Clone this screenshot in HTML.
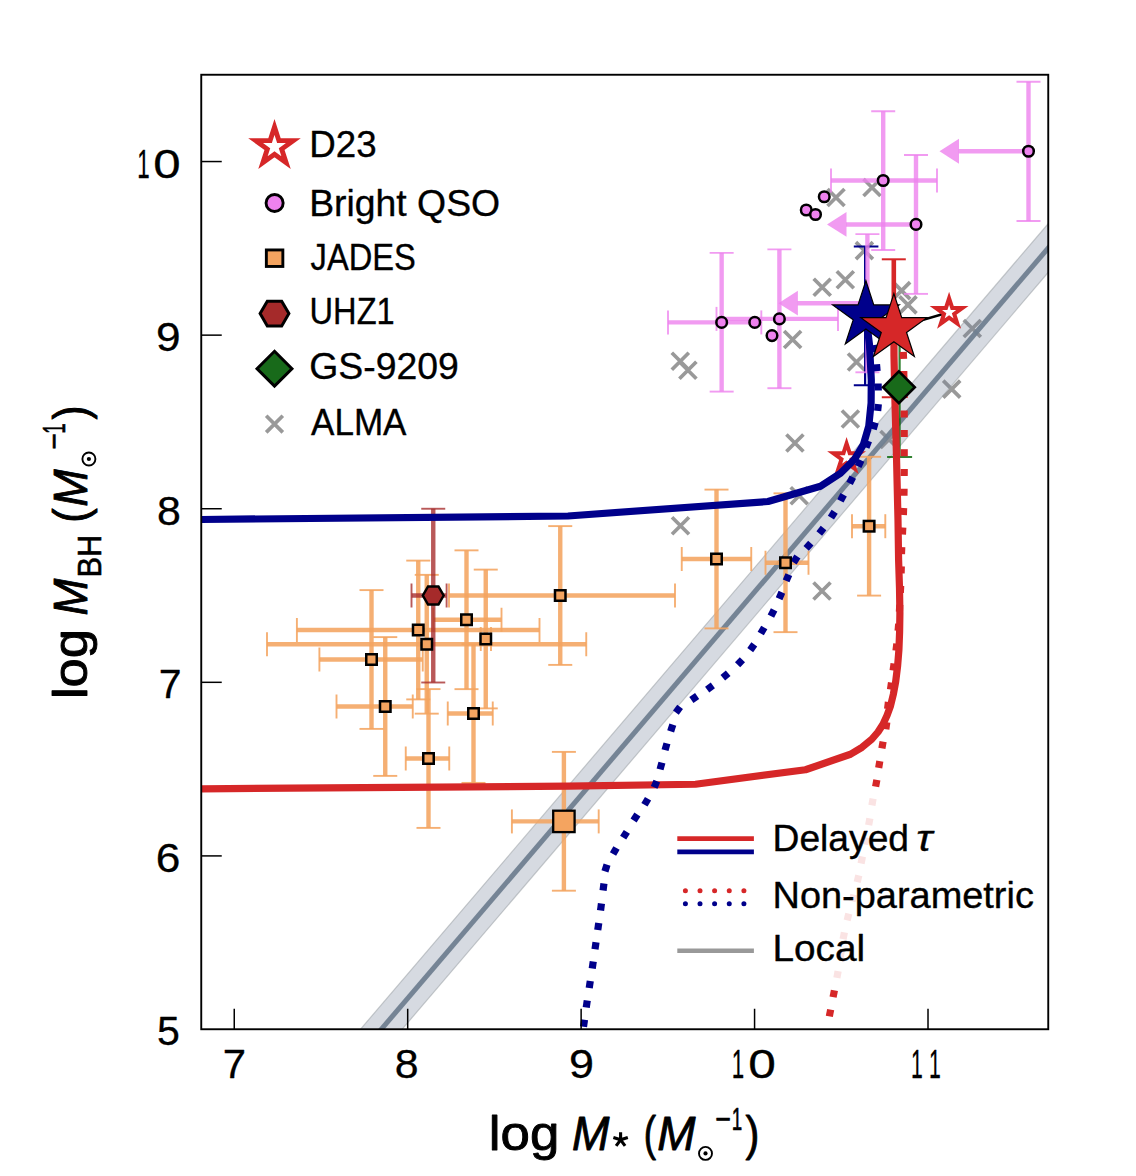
<!DOCTYPE html>
<html><head><meta charset="utf-8"><title>plot</title>
<style>
html,body{margin:0;padding:0;background:#fff;}
body{width:1136px;height:1176px;overflow:hidden;font-family:"Liberation Sans",sans-serif;}
svg{display:block;}
text{font-family:"Liberation Sans",sans-serif;fill:#000;}
.it{font-style:italic;}
</style></head><body>
<svg width="1136" height="1176" viewBox="0 0 1136 1176">
<rect x="0" y="0" width="1136" height="1176" fill="#ffffff"/>
<defs><clipPath id="cp"><rect x="201.25" y="74.75" width="847.0" height="954.5"/></clipPath></defs>
<g clip-path="url(#cp)">
<path d="M827.50 189.00L844.50 206.00M827.50 206.00L844.50 189.00" stroke="#999999" stroke-width="3.7" fill="none"/>
<path d="M863.50 179.00L880.50 196.00M863.50 196.00L880.50 179.00" stroke="#999999" stroke-width="3.7" fill="none"/>
<path d="M855.90 242.10L872.90 259.10M855.90 259.10L872.90 242.10" stroke="#999999" stroke-width="3.7" fill="none"/>
<path d="M836.80 271.20L853.80 288.20M836.80 288.20L853.80 271.20" stroke="#999999" stroke-width="3.7" fill="none"/>
<path d="M813.70 278.70L830.70 295.70M813.70 295.70L830.70 278.70" stroke="#999999" stroke-width="3.7" fill="none"/>
<path d="M893.10 282.10L910.10 299.10M893.10 299.10L910.10 282.10" stroke="#999999" stroke-width="3.7" fill="none"/>
<path d="M899.50 296.40L916.50 313.40M899.50 313.40L916.50 296.40" stroke="#999999" stroke-width="3.7" fill="none"/>
<path d="M784.10 331.00L801.10 348.00M784.10 348.00L801.10 331.00" stroke="#999999" stroke-width="3.7" fill="none"/>
<path d="M671.80 352.70L688.80 369.70M671.80 369.70L688.80 352.70" stroke="#999999" stroke-width="3.7" fill="none"/>
<path d="M679.40 361.80L696.40 378.80M679.40 378.80L696.40 361.80" stroke="#999999" stroke-width="3.7" fill="none"/>
<path d="M848.00 353.50L865.00 370.50M848.00 370.50L865.00 353.50" stroke="#999999" stroke-width="3.7" fill="none"/>
<path d="M963.80 320.00L980.80 337.00M963.80 337.00L980.80 320.00" stroke="#999999" stroke-width="3.7" fill="none"/>
<path d="M943.20 380.60L960.20 397.60M943.20 397.60L960.20 380.60" stroke="#999999" stroke-width="3.7" fill="none"/>
<path d="M841.90 410.50L858.90 427.50M841.90 427.50L858.90 410.50" stroke="#999999" stroke-width="3.7" fill="none"/>
<path d="M786.40 434.50L803.40 451.50M786.40 451.50L803.40 434.50" stroke="#999999" stroke-width="3.7" fill="none"/>
<path d="M880.50 431.00L897.50 448.00M880.50 448.00L897.50 431.00" stroke="#999999" stroke-width="3.7" fill="none"/>
<path d="M790.70 487.30L807.70 504.30M790.70 504.30L807.70 487.30" stroke="#999999" stroke-width="3.7" fill="none"/>
<path d="M672.00 517.25L689.00 534.25M672.00 534.25L689.00 517.25" stroke="#999999" stroke-width="3.7" fill="none"/>
<path d="M813.50 582.50L830.50 599.50M813.50 599.50L830.50 582.50" stroke="#999999" stroke-width="3.7" fill="none"/>
<path d="M330 1064.94L1080 186.39L1080 235.19L330 1113.74Z" fill="rgba(112,128,150,0.29)" stroke="rgba(150,155,160,0.5)" stroke-width="1.2"/>
<path d="M330 1089.34L1080 210.79" stroke="rgba(112,128,144,0.95)" stroke-width="5" fill="none"/>
<path d="M865.1 246.4V385.3" stroke="#00008b" stroke-width="2.2" fill="none"/><path d="M853.8 246.4H878.4M853.8 385.3H878.4" stroke="#00008b" stroke-width="2.0" fill="none"/>
<path d="M1028.50 81.75V221.00" stroke="rgba(238,130,238,0.8)" stroke-width="4.4" fill="none"/><path d="M1016.50 81.75H1040.50" stroke="rgba(238,130,238,0.8)" stroke-width="1.9" fill="none"/><path d="M1016.50 221.00H1040.50" stroke="rgba(238,130,238,0.8)" stroke-width="1.9" fill="none"/>
<path d="M1028.50 151.25H958.50" stroke="rgba(238,130,238,0.8)" stroke-width="4.5" fill="none"/>
<path d="M939.50 151.25L959.00 138.85V163.65Z" fill="rgba(238,130,238,0.8)"/>
<path d="M883.20 111.25V250.00" stroke="rgba(238,130,238,0.8)" stroke-width="4.4" fill="none"/><path d="M871.20 111.25H895.20" stroke="rgba(238,130,238,0.8)" stroke-width="1.9" fill="none"/><path d="M871.20 250.00H895.20" stroke="rgba(238,130,238,0.8)" stroke-width="1.9" fill="none"/><path d="M831.00 180.50H937.00" stroke="rgba(238,130,238,0.8)" stroke-width="4.4" fill="none"/><path d="M831.00 168.50V192.50" stroke="rgba(238,130,238,0.8)" stroke-width="1.9" fill="none"/><path d="M937.00 168.50V192.50" stroke="rgba(238,130,238,0.8)" stroke-width="1.9" fill="none"/>
<path d="M916.00 155.00V293.90" stroke="rgba(238,130,238,0.8)" stroke-width="4.4" fill="none"/><path d="M904.00 155.00H928.00" stroke="rgba(238,130,238,0.8)" stroke-width="1.9" fill="none"/><path d="M904.00 293.90H928.00" stroke="rgba(238,130,238,0.8)" stroke-width="1.9" fill="none"/>
<path d="M916.00 224.40H846.00" stroke="rgba(238,130,238,0.8)" stroke-width="4.5" fill="none"/>
<path d="M827.00 224.40L846.50 212.00V236.80Z" fill="rgba(238,130,238,0.8)"/>
<path d="M867.40 234.10V372.30" stroke="rgba(238,130,238,0.8)" stroke-width="4.4" fill="none"/><path d="M855.40 234.10H879.40" stroke="rgba(238,130,238,0.8)" stroke-width="1.9" fill="none"/><path d="M855.40 372.30H879.40" stroke="rgba(238,130,238,0.8)" stroke-width="1.9" fill="none"/>
<path d="M867.40 303.20H797.40" stroke="rgba(238,130,238,0.8)" stroke-width="4.5" fill="none"/>
<path d="M778.40 303.20L797.90 290.80V315.60Z" fill="rgba(238,130,238,0.8)"/>
<path d="M721.65 252.90V391.60" stroke="rgba(238,130,238,0.8)" stroke-width="4.4" fill="none"/><path d="M709.65 252.90H733.65" stroke="rgba(238,130,238,0.8)" stroke-width="1.9" fill="none"/><path d="M709.65 391.60H733.65" stroke="rgba(238,130,238,0.8)" stroke-width="1.9" fill="none"/><path d="M668.00 322.40H761.30" stroke="rgba(238,130,238,0.8)" stroke-width="4.4" fill="none"/><path d="M668.00 310.40V334.40" stroke="rgba(238,130,238,0.8)" stroke-width="1.9" fill="none"/><path d="M761.30 310.40V334.40" stroke="rgba(238,130,238,0.8)" stroke-width="1.9" fill="none"/>
<path d="M779.40 249.40V388.20" stroke="rgba(238,130,238,0.8)" stroke-width="4.4" fill="none"/><path d="M767.40 249.40H791.40" stroke="rgba(238,130,238,0.8)" stroke-width="1.9" fill="none"/><path d="M767.40 388.20H791.40" stroke="rgba(238,130,238,0.8)" stroke-width="1.9" fill="none"/><path d="M716.50 318.90H838.00" stroke="rgba(238,130,238,0.8)" stroke-width="4.4" fill="none"/><path d="M716.50 306.90V330.90" stroke="rgba(238,130,238,0.8)" stroke-width="1.9" fill="none"/><path d="M838.00 306.90V330.90" stroke="rgba(238,130,238,0.8)" stroke-width="1.9" fill="none"/>
<path d="M371.50 590.10V728.90" stroke="rgba(244,164,96,0.88)" stroke-width="4.4" fill="none"/><path d="M359.50 590.10H383.50" stroke="rgba(244,164,96,0.88)" stroke-width="1.9" fill="none"/><path d="M359.50 728.90H383.50" stroke="rgba(244,164,96,0.88)" stroke-width="1.9" fill="none"/><path d="M319.40 659.50H422.75" stroke="rgba(244,164,96,0.88)" stroke-width="4.4" fill="none"/><path d="M319.40 647.50V671.50" stroke="rgba(244,164,96,0.88)" stroke-width="1.9" fill="none"/><path d="M422.75 647.50V671.50" stroke="rgba(244,164,96,0.88)" stroke-width="1.9" fill="none"/>
<path d="M385.25 637.10V775.90" stroke="rgba(244,164,96,0.88)" stroke-width="4.4" fill="none"/><path d="M373.25 637.10H397.25" stroke="rgba(244,164,96,0.88)" stroke-width="1.9" fill="none"/><path d="M373.25 775.90H397.25" stroke="rgba(244,164,96,0.88)" stroke-width="1.9" fill="none"/><path d="M336.50 706.50H412.75" stroke="rgba(244,164,96,0.88)" stroke-width="4.4" fill="none"/><path d="M336.50 694.50V718.50" stroke="rgba(244,164,96,0.88)" stroke-width="1.9" fill="none"/><path d="M412.75 694.50V718.50" stroke="rgba(244,164,96,0.88)" stroke-width="1.9" fill="none"/>
<path d="M418.25 560.60V699.40" stroke="rgba(244,164,96,0.88)" stroke-width="4.4" fill="none"/><path d="M406.25 560.60H430.25" stroke="rgba(244,164,96,0.88)" stroke-width="1.9" fill="none"/><path d="M406.25 699.40H430.25" stroke="rgba(244,164,96,0.88)" stroke-width="1.9" fill="none"/><path d="M296.90 630.00H539.50" stroke="rgba(244,164,96,0.88)" stroke-width="4.4" fill="none"/><path d="M296.90 618.00V642.00" stroke="rgba(244,164,96,0.88)" stroke-width="1.9" fill="none"/><path d="M539.50 618.00V642.00" stroke="rgba(244,164,96,0.88)" stroke-width="1.9" fill="none"/>
<path d="M426.75 574.85V713.65" stroke="rgba(244,164,96,0.88)" stroke-width="4.4" fill="none"/><path d="M414.75 574.85H438.75" stroke="rgba(244,164,96,0.88)" stroke-width="1.9" fill="none"/><path d="M414.75 713.65H438.75" stroke="rgba(244,164,96,0.88)" stroke-width="1.9" fill="none"/><path d="M267.00 644.25H586.25" stroke="rgba(244,164,96,0.88)" stroke-width="4.4" fill="none"/><path d="M267.00 632.25V656.25" stroke="rgba(244,164,96,0.88)" stroke-width="1.9" fill="none"/><path d="M586.25 632.25V656.25" stroke="rgba(244,164,96,0.88)" stroke-width="1.9" fill="none"/>
<path d="M466.50 550.35V689.15" stroke="rgba(244,164,96,0.88)" stroke-width="4.4" fill="none"/><path d="M454.50 550.35H478.50" stroke="rgba(244,164,96,0.88)" stroke-width="1.9" fill="none"/><path d="M454.50 689.15H478.50" stroke="rgba(244,164,96,0.88)" stroke-width="1.9" fill="none"/><path d="M433.25 619.75H501.50" stroke="rgba(244,164,96,0.88)" stroke-width="4.4" fill="none"/><path d="M433.25 607.75V631.75" stroke="rgba(244,164,96,0.88)" stroke-width="1.9" fill="none"/><path d="M501.50 607.75V631.75" stroke="rgba(244,164,96,0.88)" stroke-width="1.9" fill="none"/>
<path d="M485.75 569.60V708.40" stroke="rgba(244,164,96,0.88)" stroke-width="4.4" fill="none"/><path d="M473.75 569.60H497.75" stroke="rgba(244,164,96,0.88)" stroke-width="1.9" fill="none"/><path d="M473.75 708.40H497.75" stroke="rgba(244,164,96,0.88)" stroke-width="1.9" fill="none"/><path d="M480.75 639.00H491.00" stroke="rgba(244,164,96,0.88)" stroke-width="4.4" fill="none"/><path d="M480.75 627.00V651.00" stroke="rgba(244,164,96,0.88)" stroke-width="1.9" fill="none"/><path d="M491.00 627.00V651.00" stroke="rgba(244,164,96,0.88)" stroke-width="1.9" fill="none"/>
<path d="M473.50 644.10V782.90" stroke="rgba(244,164,96,0.88)" stroke-width="4.4" fill="none"/><path d="M461.50 644.10H485.50" stroke="rgba(244,164,96,0.88)" stroke-width="1.9" fill="none"/><path d="M461.50 782.90H485.50" stroke="rgba(244,164,96,0.88)" stroke-width="1.9" fill="none"/><path d="M447.75 713.50H492.75" stroke="rgba(244,164,96,0.88)" stroke-width="4.4" fill="none"/><path d="M447.75 701.50V725.50" stroke="rgba(244,164,96,0.88)" stroke-width="1.9" fill="none"/><path d="M492.75 701.50V725.50" stroke="rgba(244,164,96,0.88)" stroke-width="1.9" fill="none"/>
<path d="M428.50 689.10V827.90" stroke="rgba(244,164,96,0.88)" stroke-width="4.4" fill="none"/><path d="M416.50 689.10H440.50" stroke="rgba(244,164,96,0.88)" stroke-width="1.9" fill="none"/><path d="M416.50 827.90H440.50" stroke="rgba(244,164,96,0.88)" stroke-width="1.9" fill="none"/><path d="M405.75 758.50H449.25" stroke="rgba(244,164,96,0.88)" stroke-width="4.4" fill="none"/><path d="M405.75 746.50V770.50" stroke="rgba(244,164,96,0.88)" stroke-width="1.9" fill="none"/><path d="M449.25 746.50V770.50" stroke="rgba(244,164,96,0.88)" stroke-width="1.9" fill="none"/>
<path d="M560.25 526.10V664.90" stroke="rgba(244,164,96,0.88)" stroke-width="4.4" fill="none"/><path d="M548.25 526.10H572.25" stroke="rgba(244,164,96,0.88)" stroke-width="1.9" fill="none"/><path d="M548.25 664.90H572.25" stroke="rgba(244,164,96,0.88)" stroke-width="1.9" fill="none"/><path d="M449.00 595.50H675.00" stroke="rgba(244,164,96,0.88)" stroke-width="4.4" fill="none"/><path d="M449.00 583.50V607.50" stroke="rgba(244,164,96,0.88)" stroke-width="1.9" fill="none"/><path d="M675.00 583.50V607.50" stroke="rgba(244,164,96,0.88)" stroke-width="1.9" fill="none"/>
<path d="M716.50 489.60V628.40" stroke="rgba(244,164,96,0.88)" stroke-width="4.4" fill="none"/><path d="M704.50 489.60H728.50" stroke="rgba(244,164,96,0.88)" stroke-width="1.9" fill="none"/><path d="M704.50 628.40H728.50" stroke="rgba(244,164,96,0.88)" stroke-width="1.9" fill="none"/><path d="M681.75 559.00H751.25" stroke="rgba(244,164,96,0.88)" stroke-width="4.4" fill="none"/><path d="M681.75 547.00V571.00" stroke="rgba(244,164,96,0.88)" stroke-width="1.9" fill="none"/><path d="M751.25 547.00V571.00" stroke="rgba(244,164,96,0.88)" stroke-width="1.9" fill="none"/>
<path d="M785.50 493.35V632.15" stroke="rgba(244,164,96,0.88)" stroke-width="4.4" fill="none"/><path d="M773.50 493.35H797.50" stroke="rgba(244,164,96,0.88)" stroke-width="1.9" fill="none"/><path d="M773.50 632.15H797.50" stroke="rgba(244,164,96,0.88)" stroke-width="1.9" fill="none"/><path d="M765.50 562.75H808.50" stroke="rgba(244,164,96,0.88)" stroke-width="4.4" fill="none"/><path d="M765.50 550.75V574.75" stroke="rgba(244,164,96,0.88)" stroke-width="1.9" fill="none"/><path d="M808.50 550.75V574.75" stroke="rgba(244,164,96,0.88)" stroke-width="1.9" fill="none"/>
<path d="M869.10 456.80V595.60" stroke="rgba(244,164,96,0.88)" stroke-width="4.4" fill="none"/><path d="M857.10 456.80H881.10" stroke="rgba(244,164,96,0.88)" stroke-width="1.9" fill="none"/><path d="M857.10 595.60H881.10" stroke="rgba(244,164,96,0.88)" stroke-width="1.9" fill="none"/><path d="M852.00 526.20H885.30" stroke="rgba(244,164,96,0.88)" stroke-width="4.4" fill="none"/><path d="M852.00 514.20V538.20" stroke="rgba(244,164,96,0.88)" stroke-width="1.9" fill="none"/><path d="M885.30 514.20V538.20" stroke="rgba(244,164,96,0.88)" stroke-width="1.9" fill="none"/>
<path d="M563.90 751.90V890.70" stroke="rgba(244,164,96,0.88)" stroke-width="4.4" fill="none"/><path d="M551.90 751.90H575.90" stroke="rgba(244,164,96,0.88)" stroke-width="1.9" fill="none"/><path d="M551.90 890.70H575.90" stroke="rgba(244,164,96,0.88)" stroke-width="1.9" fill="none"/><path d="M511.90 821.40H598.70" stroke="rgba(244,164,96,0.88)" stroke-width="4.4" fill="none"/><path d="M511.90 809.40V833.40" stroke="rgba(244,164,96,0.88)" stroke-width="1.9" fill="none"/><path d="M598.70 809.40V833.40" stroke="rgba(244,164,96,0.88)" stroke-width="1.9" fill="none"/>
<path d="M433.25 508.75V682.50" stroke="rgba(165,42,42,0.78)" stroke-width="4.4" fill="none"/><path d="M421.25 508.75H445.25" stroke="rgba(165,42,42,0.78)" stroke-width="1.9" fill="none"/><path d="M421.25 682.50H445.25" stroke="rgba(165,42,42,0.78)" stroke-width="1.9" fill="none"/><path d="M411.50 595.50H446.60" stroke="rgba(165,42,42,0.78)" stroke-width="4.4" fill="none"/><path d="M411.50 583.50V607.50" stroke="rgba(165,42,42,0.78)" stroke-width="1.9" fill="none"/><path d="M446.60 583.50V607.50" stroke="rgba(165,42,42,0.78)" stroke-width="1.9" fill="none"/>
<path d="M899.6 330V457M887.1 457H912.1" stroke="rgba(0,100,0,0.8)" stroke-width="2.2" fill="none"/>
<path d="M893.80 259.30V397.25" stroke="#d62728" stroke-width="4.6" fill="none"/><path d="M881.80 259.30H905.80" stroke="#d62728" stroke-width="2" fill="none"/><path d="M881.80 397.25H905.80" stroke="#d62728" stroke-width="2" fill="none"/>
<path d="M893.9 328.4L949.1 312.3" stroke="#000" stroke-width="2.5" fill="none"/>
<polygon points="949.10,298.30 952.24,307.97 962.41,307.97 954.19,313.95 957.33,323.63 949.10,317.65 940.87,323.63 944.01,313.95 935.79,307.97 945.96,307.97" fill="#fff" stroke="#d62728" stroke-width="4.0" stroke-linejoin="miter"/>
<polygon points="846.60,443.50 849.74,453.17 859.91,453.17 851.69,459.15 854.83,468.83 846.60,462.85 838.37,468.83 841.51,459.15 833.29,453.17 843.46,453.17" fill="#fff" stroke="#d62728" stroke-width="4.0" stroke-linejoin="miter"/>
<g fill="#d62728"><rect x="-3.5" y="-3.6" width="7.0" height="7.2" transform="translate(830.00,1013.00) rotate(-79.0)"/><rect x="-3.5" y="-3.6" width="7.0" height="7.2" transform="translate(833.75,993.75) rotate(-79.0)"/><rect x="-3.5" y="-3.6" width="7.0" height="7.2" transform="translate(837.50,974.50) rotate(-80.0)"/><rect x="-3.5" y="-3.6" width="7.0" height="7.2" transform="translate(840.60,955.00) rotate(-80.8)"/><rect x="-3.5" y="-3.6" width="7.0" height="7.2" transform="translate(843.75,935.75) rotate(-79.0)"/><rect x="-3.5" y="-3.6" width="7.0" height="7.2" transform="translate(848.00,917.00) rotate(-76.2)"/><rect x="-3.5" y="-3.6" width="7.0" height="7.2" transform="translate(853.00,898.00) rotate(-75.3)"/><rect x="-3.5" y="-3.6" width="7.0" height="7.2" transform="translate(858.00,878.75) rotate(-77.0)"/><rect x="-3.5" y="-3.6" width="7.0" height="7.2" transform="translate(861.75,860.00) rotate(-78.8)"/><rect x="-3.5" y="-3.6" width="7.0" height="7.2" transform="translate(865.50,841.00) rotate(-78.9)"/><rect x="-3.5" y="-3.6" width="7.0" height="7.2" transform="translate(869.25,821.75) rotate(-79.8)"/><rect x="-3.5" y="-3.6" width="7.0" height="7.2" transform="translate(872.50,802.00) rotate(-79.7)"/><rect x="-3.5" y="-3.6" width="7.0" height="7.2" transform="translate(876.25,783.25) rotate(-79.8)"/><rect x="-3.5" y="-3.6" width="7.0" height="7.2" transform="translate(879.25,764.50) rotate(-80.7)"/><rect x="-3.5" y="-3.6" width="7.0" height="7.2" transform="translate(882.50,745.00) rotate(-79.7)"/><rect x="-3.5" y="-3.6" width="7.0" height="7.2" transform="translate(886.30,725.80) rotate(-82.1)"/><rect x="-3.5" y="-3.6" width="7.0" height="7.2" transform="translate(888.00,705.50) rotate(-83.2)"/><rect x="-3.5" y="-3.6" width="7.0" height="7.2" transform="translate(891.00,686.10) rotate(-81.7)"/><rect x="-3.5" y="-3.6" width="7.0" height="7.2" transform="translate(893.60,667.00) rotate(-82.1)"/><rect x="-3.5" y="-3.6" width="7.0" height="7.2" transform="translate(896.40,647.10) rotate(-83.1)"/><rect x="-3.5" y="-3.6" width="7.0" height="7.2" transform="translate(898.40,627.20) rotate(-85.3)"/><rect x="-3.5" y="-3.6" width="7.0" height="7.2" transform="translate(899.60,608.30) rotate(-86.8)"/><rect x="-3.5" y="-3.6" width="7.0" height="7.2" transform="translate(900.50,589.30) rotate(-87.6)"/><rect x="-3.5" y="-3.6" width="7.0" height="7.2" transform="translate(901.20,569.80) rotate(-88.4)"/><rect x="-3.5" y="-3.6" width="7.0" height="7.2" transform="translate(901.60,550.70) rotate(-87.9)"/><rect x="-3.5" y="-3.6" width="7.0" height="7.2" transform="translate(902.60,531.00) rotate(-87.2)"/><rect x="-3.5" y="-3.6" width="7.0" height="7.2" transform="translate(903.50,511.50) rotate(-87.9)"/><rect x="-3.5" y="-3.6" width="7.0" height="7.2" transform="translate(904.00,492.30) rotate(-89.0)"/><rect x="-3.5" y="-3.6" width="7.0" height="7.2" transform="translate(904.20,472.50) rotate(-89.7)"/><rect x="-3.5" y="-3.6" width="7.0" height="7.2" transform="translate(904.20,452.70) rotate(-90.0)"/><rect x="-3.5" y="-3.6" width="7.0" height="7.2" transform="translate(904.20,433.50) rotate(-90.0)"/><rect x="-3.5" y="-3.6" width="7.0" height="7.2" transform="translate(904.20,414.00) rotate(-90.1)"/><rect x="-3.5" y="-3.6" width="7.0" height="7.2" transform="translate(904.10,394.50) rotate(-90.6)"/><rect x="-3.5" y="-3.6" width="7.0" height="7.2" transform="translate(903.80,374.50) rotate(-91.0)"/><rect x="-3.5" y="-3.6" width="7.0" height="7.2" transform="translate(903.40,355.30) rotate(-92.7)"/><rect x="-3.5" y="-3.6" width="7.0" height="7.2" transform="translate(902.00,336.00) rotate(-94.1)"/></g>
<path d="M190.00 788.90L568.00 786.20L695.50 784.25L805.50 769.75L850.50 754.25L862.00 747.30L871.75 739.25L878.00 732.00L883.00 724.25L887.00 715.50L890.50 706.00L893.30 694.50L895.70 681.50L897.60 666.00L898.90 650.00L899.60 632.00L899.90 613.00L899.50 588.00L898.60 560.00L898.00 520.00L896.50 456.50L895.00 403.00L894.00 356.00L893.90 328.40" stroke="#d62728" stroke-width="7.2" fill="none" stroke-linejoin="round"/>
<g fill="#00008b"><rect x="-3.5" y="-3.6" width="7.0" height="7.2" transform="translate(584.00,1023.25) rotate(-81.9)"/><rect x="-3.5" y="-3.6" width="7.0" height="7.2" transform="translate(586.75,1004.00) rotate(-81.6)"/><rect x="-3.5" y="-3.6" width="7.0" height="7.2" transform="translate(589.75,984.50) rotate(-81.3)"/><rect x="-3.5" y="-3.6" width="7.0" height="7.2" transform="translate(592.75,965.00) rotate(-81.6)"/><rect x="-3.5" y="-3.6" width="7.0" height="7.2" transform="translate(595.50,945.75) rotate(-81.9)"/><rect x="-3.5" y="-3.6" width="7.0" height="7.2" transform="translate(598.25,926.50) rotate(-81.9)"/><rect x="-3.5" y="-3.6" width="7.0" height="7.2" transform="translate(601.00,907.00) rotate(-82.4)"/><rect x="-3.5" y="-3.6" width="7.0" height="7.2" transform="translate(603.50,887.00) rotate(-82.7)"/><rect x="-3.5" y="-3.6" width="7.0" height="7.2" transform="translate(606.00,868.00) rotate(-72.6)"/><rect x="-3.5" y="-3.6" width="7.0" height="7.2" transform="translate(614.75,851.00) rotate(-60.3)"/><rect x="-3.5" y="-3.6" width="7.0" height="7.2" transform="translate(625.00,834.75) rotate(-58.2)"/><rect x="-3.5" y="-3.6" width="7.0" height="7.2" transform="translate(635.50,817.50) rotate(-57.2)"/><rect x="-3.5" y="-3.6" width="7.0" height="7.2" transform="translate(646.25,801.75) rotate(-59.0)"/><rect x="-3.5" y="-3.6" width="7.0" height="7.2" transform="translate(655.50,784.25) rotate(-67.6)"/><rect x="-3.5" y="-3.6" width="7.0" height="7.2" transform="translate(661.00,766.00) rotate(-74.4)"/><rect x="-3.5" y="-3.6" width="7.0" height="7.2" transform="translate(666.00,746.75) rotate(-74.2)"/><rect x="-3.5" y="-3.6" width="7.0" height="7.2" transform="translate(671.75,728.00) rotate(-72.0)"/><rect x="-3.5" y="-3.6" width="7.0" height="7.2" transform="translate(678.00,709.75) rotate(-53.1)"/><rect x="-3.5" y="-3.6" width="7.0" height="7.2" transform="translate(694.25,698.00) rotate(-34.8)"/><rect x="-3.5" y="-3.6" width="7.0" height="7.2" transform="translate(710.00,687.50) rotate(-35.8)"/><rect x="-3.5" y="-3.6" width="7.0" height="7.2" transform="translate(725.50,675.50) rotate(-40.1)"/><rect x="-3.5" y="-3.6" width="7.0" height="7.2" transform="translate(740.00,662.25) rotate(-46.6)"/><rect x="-3.5" y="-3.6" width="7.0" height="7.2" transform="translate(752.25,647.25) rotate(-54.7)"/><rect x="-3.5" y="-3.6" width="7.0" height="7.2" transform="translate(762.50,630.50) rotate(-59.4)"/><rect x="-3.5" y="-3.6" width="7.0" height="7.2" transform="translate(772.50,613.00) rotate(-62.8)"/><rect x="-3.5" y="-3.6" width="7.0" height="7.2" transform="translate(780.50,595.50) rotate(-66.9)"/><rect x="-3.5" y="-3.6" width="7.0" height="7.2" transform="translate(787.50,577.75) rotate(-67.4)"/><rect x="-3.5" y="-3.6" width="7.0" height="7.2" transform="translate(795.50,559.50) rotate(-56.8)"/><rect x="-3.5" y="-3.6" width="7.0" height="7.2" transform="translate(808.50,545.70) rotate(-48.0)"/><rect x="-3.5" y="-3.6" width="7.0" height="7.2" transform="translate(821.40,530.70) rotate(-51.9)"/><rect x="-3.5" y="-3.6" width="7.0" height="7.2" transform="translate(832.80,514.70) rotate(-57.9)"/><rect x="-3.5" y="-3.6" width="7.0" height="7.2" transform="translate(842.00,497.80) rotate(-61.9)"/><rect x="-3.5" y="-3.6" width="7.0" height="7.2" transform="translate(851.20,480.20) rotate(-62.9)"/><rect x="-3.5" y="-3.6" width="7.0" height="7.2" transform="translate(859.60,463.40) rotate(-65.8)"/><rect x="-3.5" y="-3.6" width="7.0" height="7.2" transform="translate(867.30,444.30) rotate(-68.7)"/><rect x="-3.5" y="-3.6" width="7.0" height="7.2" transform="translate(874.20,425.90) rotate(-73.8)"/><rect x="-3.5" y="-3.6" width="7.0" height="7.2" transform="translate(878.00,407.50) rotate(-84.1)"/><rect x="-3.5" y="-3.6" width="7.0" height="7.2" transform="translate(878.20,387.00) rotate(-91.7)"/><rect x="-3.5" y="-3.6" width="7.0" height="7.2" transform="translate(876.80,367.70) rotate(-95.0)"/><rect x="-3.5" y="-3.6" width="7.0" height="7.2" transform="translate(874.80,348.40) rotate(-98.6)"/><rect x="-3.5" y="-3.6" width="7.0" height="7.2" transform="translate(871.00,329.50) rotate(-101.4)"/></g>
<path d="M190.00 519.60L568.00 516.00L768.00 501.50L820.50 486.30L840.50 473.30L854.30 459.60L863.50 444.30L868.80 425.90L871.10 403.00L871.30 380.00L869.50 345.00L866.00 316.00" stroke="#00008b" stroke-width="7.2" fill="none" stroke-linejoin="round"/>
<circle cx="1028.5" cy="151.25" r="5.3" fill="#ee82ee" stroke="#000" stroke-width="2.5"/>
<circle cx="883.2" cy="180.5" r="5.3" fill="#ee82ee" stroke="#000" stroke-width="2.5"/>
<circle cx="916" cy="224.4" r="5.3" fill="#ee82ee" stroke="#000" stroke-width="2.5"/>
<circle cx="721.65" cy="322.4" r="5.3" fill="#ee82ee" stroke="#000" stroke-width="2.5"/>
<circle cx="754.75" cy="322.4" r="5.3" fill="#ee82ee" stroke="#000" stroke-width="2.5"/>
<circle cx="779.4" cy="318.9" r="5.3" fill="#ee82ee" stroke="#000" stroke-width="2.5"/>
<circle cx="772" cy="335.6" r="5.3" fill="#ee82ee" stroke="#000" stroke-width="2.5"/>
<circle cx="824.25" cy="196.75" r="5.3" fill="#ee82ee" stroke="#000" stroke-width="2.5"/>
<circle cx="806.25" cy="210" r="5.3" fill="#ee82ee" stroke="#000" stroke-width="2.5"/>
<circle cx="815.5" cy="214.5" r="5.3" fill="#ee82ee" stroke="#000" stroke-width="2.5"/>
<rect x="366.25" y="654.25" width="10.5" height="10.5" fill="#f4a460" stroke="#000" stroke-width="2.5"/>
<rect x="380.00" y="701.25" width="10.5" height="10.5" fill="#f4a460" stroke="#000" stroke-width="2.5"/>
<rect x="413.00" y="624.75" width="10.5" height="10.5" fill="#f4a460" stroke="#000" stroke-width="2.5"/>
<rect x="421.50" y="639.00" width="10.5" height="10.5" fill="#f4a460" stroke="#000" stroke-width="2.5"/>
<rect x="461.25" y="614.50" width="10.5" height="10.5" fill="#f4a460" stroke="#000" stroke-width="2.5"/>
<rect x="480.50" y="633.75" width="10.5" height="10.5" fill="#f4a460" stroke="#000" stroke-width="2.5"/>
<rect x="468.25" y="708.25" width="10.5" height="10.5" fill="#f4a460" stroke="#000" stroke-width="2.5"/>
<rect x="423.25" y="753.25" width="10.5" height="10.5" fill="#f4a460" stroke="#000" stroke-width="2.5"/>
<rect x="555.00" y="590.25" width="10.5" height="10.5" fill="#f4a460" stroke="#000" stroke-width="2.5"/>
<rect x="711.25" y="553.75" width="10.5" height="10.5" fill="#f4a460" stroke="#000" stroke-width="2.5"/>
<rect x="780.25" y="557.50" width="10.5" height="10.5" fill="#f4a460" stroke="#000" stroke-width="2.5"/>
<rect x="863.85" y="520.95" width="10.5" height="10.5" fill="#f4a460" stroke="#000" stroke-width="2.5"/>
<rect x="553.20" y="810.70" width="21.4" height="21.4" fill="#f4a460" stroke="#000" stroke-width="2.3"/>
<polygon points="443.65,595.50 438.45,604.51 428.05,604.51 422.85,595.50 428.05,586.49 438.45,586.49" fill="#a52a2a" stroke="#000" stroke-width="2.5" stroke-linejoin="miter"/>
<polygon points="898.9,371.35 914.8,387.25 898.9,403.15 883.0,387.25" fill="#186a1a" stroke="#000" stroke-width="2.6" stroke-linejoin="miter"/>
<polygon points="865.90,280.70 873.76,304.88 899.19,304.88 878.61,319.83 886.47,344.02 865.90,329.07 845.33,344.02 853.19,319.83 832.61,304.88 858.04,304.88" fill="#00008b" stroke="#000" stroke-width="1.2" stroke-linejoin="miter"/>
<polygon points="893.90,293.60 901.71,317.65 927.00,317.65 906.54,332.51 914.35,356.55 893.90,341.69 873.45,356.55 881.26,332.51 860.80,317.65 886.09,317.65" fill="#d62728" stroke="#000" stroke-width="1.2" stroke-linejoin="miter"/>
<rect x="664" y="795" width="378" height="188" fill="rgba(255,255,255,0.87)"/>
</g>
<rect x="201.25" y="74.75" width="847.0" height="954.5" fill="none" stroke="#000" stroke-width="1.9"/>
<path d="M201.25 855.91h20.5" stroke="#000" stroke-width="1.5"/>
<path d="M201.25 682.32h20.5" stroke="#000" stroke-width="1.5"/>
<path d="M201.25 508.73h20.5" stroke="#000" stroke-width="1.5"/>
<path d="M201.25 335.14h20.5" stroke="#000" stroke-width="1.5"/>
<path d="M201.25 161.55h20.5" stroke="#000" stroke-width="1.5"/>
<path d="M234.25 1029.25v-20.5" stroke="#000" stroke-width="1.5"/>
<path d="M407.69 1029.25v-20.5" stroke="#000" stroke-width="1.5"/>
<path d="M581.13 1029.25v-20.5" stroke="#000" stroke-width="1.5"/>
<path d="M754.57 1029.25v-20.5" stroke="#000" stroke-width="1.5"/>
<path d="M928.01 1029.25v-20.5" stroke="#000" stroke-width="1.5"/>
<text transform="translate(309.27,157.00) scale(0.9922,1)" font-size="37" stroke="#000" stroke-width="0.35" stroke-linejoin="round">D23</text>
<text transform="translate(309.22,216.25) scale(1.0095,1)" font-size="37" stroke="#000" stroke-width="0.35" stroke-linejoin="round">Bright QSO</text>
<text transform="translate(310.56,270.00) scale(0.8827,1)" font-size="37" stroke="#000" stroke-width="0.35" stroke-linejoin="round">JADES</text>
<text transform="translate(309.58,324.00) scale(0.8808,1)" font-size="37" stroke="#000" stroke-width="0.35" stroke-linejoin="round">UHZ1</text>
<text transform="translate(309.23,379.00) scale(1.0104,1)" font-size="37" stroke="#000" stroke-width="0.35" stroke-linejoin="round">GS-9209</text>
<text transform="translate(311.00,434.75) scale(0.9479,1)" font-size="37" stroke="#000" stroke-width="0.35" stroke-linejoin="round">ALMA</text>
<text transform="translate(772.53,851.40) scale(1.0057,1)" font-size="37" stroke="#000" stroke-width="0.35" stroke-linejoin="round">Delayed</text>
<text transform="translate(916.35,851.40) scale(1.1593,1)" font-size="37" font-style="italic" stroke="#000" stroke-width="0.35" stroke-linejoin="round">τ</text>
<text transform="translate(772.48,908.00) scale(1.0254,1)" font-size="37" stroke="#000" stroke-width="0.35" stroke-linejoin="round">Non-parametric</text>
<text transform="translate(772.41,961.40) scale(1.0491,1)" font-size="37" stroke="#000" stroke-width="0.35" stroke-linejoin="round">Local</text>
<text transform="translate(137.17,177.55) scale(0.5444,1)" font-size="41" stroke="#000" stroke-width="0.3" stroke-linejoin="round">1</text>
<text transform="translate(153.30,177.55) scale(1.2000,1)" font-size="41" stroke="#000" stroke-width="0.3" stroke-linejoin="round">0</text>
<text transform="translate(155.91,351.44) scale(1.0805,1)" font-size="41" stroke="#000" stroke-width="0.3" stroke-linejoin="round">9</text>
<text transform="translate(156.97,524.73) scale(1.0462,1)" font-size="41" stroke="#000" stroke-width="0.3" stroke-linejoin="round">8</text>
<text transform="translate(158.80,698.32) scale(1.0000,1)" font-size="41" stroke="#000" stroke-width="0.3" stroke-linejoin="round">7</text>
<text transform="translate(155.64,871.91) scale(1.0805,1)" font-size="41" stroke="#000" stroke-width="0.3" stroke-linejoin="round">6</text>
<text transform="translate(156.90,1045.10) scale(1.0025,1)" font-size="41" stroke="#000" stroke-width="0.3" stroke-linejoin="round">5</text>
<text transform="translate(222.76,1078.00) scale(1.0211,1)" font-size="41" stroke="#000" stroke-width="0.3" stroke-linejoin="round">7</text>
<text transform="translate(394.77,1078.00) scale(1.0462,1)" font-size="41" stroke="#000" stroke-width="0.3" stroke-linejoin="round">8</text>
<text transform="translate(568.98,1078.00) scale(1.0961,1)" font-size="41" stroke="#000" stroke-width="0.3" stroke-linejoin="round">9</text>
<text transform="translate(731.67,1078.00) scale(0.5444,1)" font-size="41" stroke="#000" stroke-width="0.3" stroke-linejoin="round">1</text>
<text transform="translate(748.18,1078.00) scale(1.2101,1)" font-size="41" stroke="#000" stroke-width="0.3" stroke-linejoin="round">0</text>
<text transform="translate(910.95,1078.00) scale(0.5167,1)" font-size="41" stroke="#000" stroke-width="0.3" stroke-linejoin="round">1</text>
<text transform="translate(928.95,1078.00) scale(0.5167,1)" font-size="41" stroke="#000" stroke-width="0.3" stroke-linejoin="round">1</text>
<text transform="translate(488.87,1150.20) scale(1.1013,1)" font-size="48" stroke="#000" stroke-width="0.9" stroke-linejoin="round">log</text>
<text transform="translate(572.06,1150.20) scale(0.9367,1)" font-size="48" font-style="italic" stroke="#000" stroke-width="0.9" stroke-linejoin="round">M</text>
<text transform="translate(643.87,1150.20) scale(0.7709,1)" font-size="48" stroke="#000" stroke-width="0.9" stroke-linejoin="round">(</text>
<text transform="translate(657.24,1150.20) scale(0.9570,1)" font-size="48" font-style="italic" stroke="#000" stroke-width="0.9" stroke-linejoin="round">M</text>
<text transform="translate(715.25,1129.60) scale(0.8431,1)" font-size="32" stroke="#000" stroke-width="0.6" stroke-linejoin="round">−</text>
<text transform="translate(731.67,1129.60) scale(0.5895,1)" font-size="32" stroke="#000" stroke-width="0.6" stroke-linejoin="round">1</text>
<text transform="translate(745.62,1150.20) scale(0.8655,1)" font-size="48" stroke="#000" stroke-width="0.9" stroke-linejoin="round">)</text>
<path d="M620.60 1139.80L620.60 1132.20M620.60 1139.80L627.83 1137.45M620.60 1139.80L625.07 1145.95M620.60 1139.80L616.13 1145.95M620.60 1139.80L613.37 1137.45" stroke="#000" stroke-width="3.1" fill="none"/>
<circle cx="705.5" cy="1153.4" r="6.5" fill="none" stroke="#000" stroke-width="1.9"/><circle cx="705.5" cy="1153.4" r="2.1" fill="#000"/>
<g transform="translate(86.5,696.1) rotate(-90)">
<text transform="translate(-3.01,0.00) scale(1.0945,1)" font-size="48" stroke="#000" stroke-width="0.9" stroke-linejoin="round">log</text>
<text transform="translate(80.58,0.00) scale(0.9215,1)" font-size="48" font-style="italic" stroke="#000" stroke-width="0.9" stroke-linejoin="round">M</text>
<text transform="translate(118.56,14.70) scale(0.9341,1)" font-size="33" stroke="#000" stroke-width="0.6" stroke-linejoin="round">BH</text>
<text transform="translate(173.35,0.00) scale(0.9018,1)" font-size="48" stroke="#000" stroke-width="0.9" stroke-linejoin="round">(</text>
<text transform="translate(189.36,0.00) scale(0.9367,1)" font-size="48" font-style="italic" stroke="#000" stroke-width="0.9" stroke-linejoin="round">M</text>
<text transform="translate(246.61,-21.40) scale(0.8738,1)" font-size="32" stroke="#000" stroke-width="0.6" stroke-linejoin="round">−</text>
<text transform="translate(262.29,-21.40) scale(0.5825,1)" font-size="32" stroke="#000" stroke-width="0.6" stroke-linejoin="round">1</text>
<text transform="translate(276.52,0.00) scale(0.8655,1)" font-size="48" stroke="#000" stroke-width="0.9" stroke-linejoin="round">)</text>
<circle cx="237.10000000000002" cy="2.4" r="6.5" fill="none" stroke="#000" stroke-width="1.9"/><circle cx="237.10000000000002" cy="2.4" r="2.1" fill="#000"/>
</g>
<polygon points="274.50,127.05 278.92,140.66 293.24,140.66 281.66,149.08 286.08,162.69 274.50,154.27 262.92,162.69 267.34,149.08 255.76,140.66 270.08,140.66" fill="#fff" stroke="#d62728" stroke-width="4.9" stroke-linejoin="miter"/>
<circle cx="274.6" cy="203" r="8.55" fill="#ee82ee" stroke="#000" stroke-width="2.9"/>
<rect x="266.35" y="249.95" width="16.5" height="16.5" fill="#f4a460" stroke="#000" stroke-width="2.9"/>
<polygon points="288.90,313.60 281.70,326.07 267.30,326.07 260.10,313.60 267.30,301.13 281.70,301.13" fill="#a52a2a" stroke="#000" stroke-width="3.0"/>
<polygon points="274.5,351.25 291.95,368.7 274.5,386.15 257.05,368.7" fill="#186a1a" stroke="#000" stroke-width="3.0"/>
<path d="M266.20 415.80L282.80 432.40M266.20 432.40L282.80 415.80" stroke="#999999" stroke-width="3.7" fill="none"/>
<path d="M677.3 838.7H753.9" stroke="#d62728" stroke-width="4.7"/>
<path d="M677.3 851.8H753.9" stroke="#00008b" stroke-width="4.7"/>
<circle cx="685.40" cy="890.8" r="2.5" fill="#d62728"/>
<circle cx="685.40" cy="903.8" r="2.5" fill="#00008b"/>
<circle cx="700.00" cy="890.8" r="2.5" fill="#d62728"/>
<circle cx="700.00" cy="903.8" r="2.5" fill="#00008b"/>
<circle cx="714.60" cy="890.8" r="2.5" fill="#d62728"/>
<circle cx="714.60" cy="903.8" r="2.5" fill="#00008b"/>
<circle cx="729.25" cy="890.8" r="2.5" fill="#d62728"/>
<circle cx="729.25" cy="903.8" r="2.5" fill="#00008b"/>
<circle cx="743.90" cy="890.8" r="2.5" fill="#d62728"/>
<circle cx="743.90" cy="903.8" r="2.5" fill="#00008b"/>
<path d="M677.3 950.7H753.9" stroke="#999999" stroke-width="4.6"/>
</svg></body></html>
